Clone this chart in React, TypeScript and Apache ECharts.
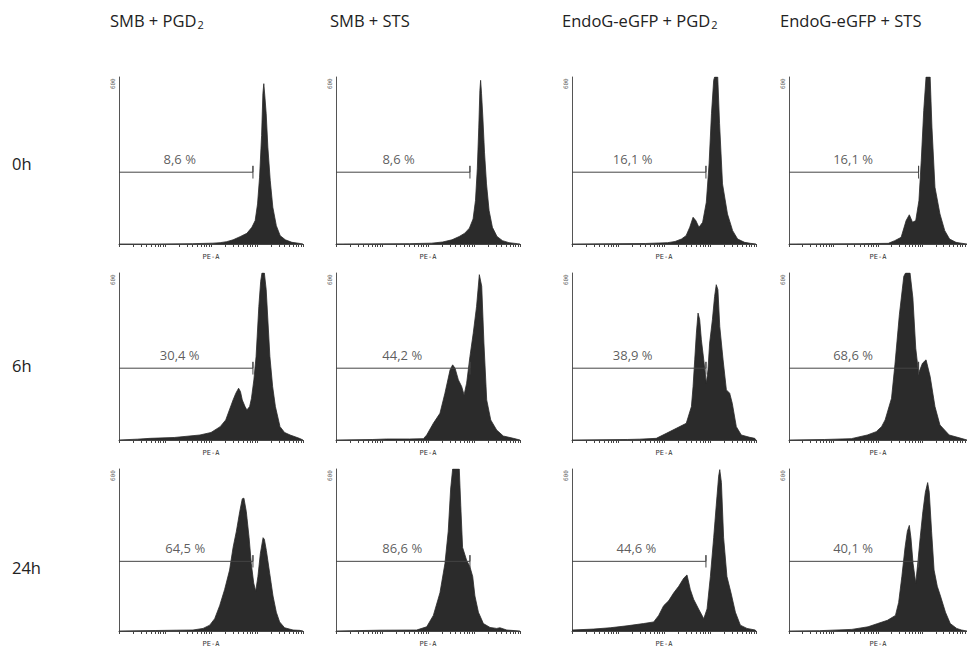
import React, { useEffect, useRef } from "react";
import * as echarts from "echarts";

// ---------- DATA ----------
const HEADER_MAIN = ["SMB + PGD", "SMB + STS", "EndoG-eGFP + PGD", "EndoG-eGFP + STS"];
const HEADER_SUB = ["2", "", "2", ""];
const ROW_LABELS = ["0h", "6h", "24h"];

const GATE_TEXT = [
  ["8,6 %", "8,6 %", "16,1 %", "16,1 %"],
  ["30,4 %", "44,2 %", "38,9 %", "68,6 %"],
  ["64,5 %", "86,6 %", "44,6 %", "40,1 %"],
];
// gate label centre x (% of axis)
const GATE_LABEL_X = [
  [33, 34, 33, 36],
  [33, 36, 33, 36],
  [36, 36, 35, 36],
];
const GATE_END = 72.8; // % of PE-A axis
const GATE_LEVEL = 43; // % of count axis

// [PE-A position (% of axis), count (% of axis)]
const H_0H_SMB_PGD2 = [[0,0],[20,0],[40,0.2],[51,0.5],[55,0.8],[58.5,1.4],[62,2.5],[65.8,4.4],[69.5,6.4],[72.2,10],[74,14],[75.3,24],[76.4,40],[77.5,65],[78.2,90],[78.7,96],[79.3,88],[80,78],[80.9,58],[82.2,38],[83.6,22],[85.5,11],[87.6,5],[90.4,2.5],[94,1],[98.5,0.3],[100,0]];
const H_0H_SMB_STS = [[0,0],[40,0.2],[52,0.5],[58,1.2],[63,2.5],[67,4.5],[70,6.5],[72.5,9.5],[74.5,15],[75.8,26],[76.8,45],[77.6,70],[78.2,92],[78.6,98],[79.1,90],[79.8,76],[80.7,55],[81.8,36],[83.2,20],[85,10],[87.5,4.5],[90.5,2],[94,0.8],[98.5,0.2],[100,0]];
const H_0H_ENDOG_PGD2 = [[0,0],[40,0.3],[52,0.8],[56,1.5],[59.5,3],[62,5],[64,10],[65.8,16],[67.3,14],[69,10],[71,13],[73,25],[74.5,48],[75.8,78],[77,98],[77.5,100],[79.2,100],[80.2,72],[81.8,36],[84.5,18],[87.3,8],[90,3],[93.8,1],[97,0.4],[100,0]];
const H_0H_ENDOG_STS = [[0,0],[40,0.2],[55.8,0.4],[59.4,2],[63,4],[65.8,14],[67.6,17.5],[69.4,13],[71.2,14],[73,26],[74.3,50],[75.7,80],[77,100],[79.3,100],[80.3,70],[82,34],[84.8,18],[87.5,8],[90.2,3],[93.8,1],[96.6,0.5],[100,0]];

const H_6H_SMB_PGD2 = [[0,0],[10,0.5],[17,1],[30,1.5],[44,3],[50,4.5],[55,8],[58,12],[60,18],[62,24],[63.5,28],[65,31],[66,29],[67,24],[68.5,20],[69.5,18],[71,20],[72,25],[73.3,36],[74.5,50],[76,80],[77,95],[77.7,100],[79,100],[80,90],[81,70],[82,50],[83.5,32],[85,20],[87.5,8],[90,4.5],[93,3],[98,1],[100,0]];
const H_6H_SMB_STS = [[0,0],[20,0.3],[27.5,0.6],[40,0.6],[47.5,0.8],[49.3,3],[52.9,10],[56.5,16],[59.2,28],[62,42],[63.4,45],[64.7,43],[66.5,36],[68.3,32],[69.6,27],[71,34],[72.8,50],[74.6,64],[76.4,80],[77.9,99],[79.2,92],[80.4,58],[81.9,24],[84.1,12],[87.3,6],[90.9,2.4],[96.4,1],[100,0]];
const H_6H_ENDOG_PGD2 = [[0,0],[30,0.3],[36.8,0.5],[45.8,1],[51.3,4],[56.7,7],[62.1,10],[64.9,20],[65.8,32],[66.7,48],[67.6,64],[68.5,76],[69.4,72],[70.3,60],[71.6,48],[73,34],[73.9,42],[74.8,58],[76.3,72],[77.5,86],[78.4,93],[79.3,90],[80.3,68],[82.1,48],[83.9,30],[85.7,28],[87.1,22],[89.3,8],[92,3],[96.6,1.6],[99.3,1],[100,0]];
const H_6H_ENDOG_STS = [[0,0],[20,0.3],[35,0.8],[44,3],[49,5],[52,8],[54,12],[57.6,25],[59.5,45],[62,75],[64.5,98],[65.5,100],[68,100],[69.6,85],[71.2,55],[72.8,40],[75,46],[77,48],[79.3,38],[82,20],[84.8,9],[90,3],[96.7,1],[100,0]];

const H_24H_SMB_PGD2 = [[0,0],[20,0.3],[31.2,0.5],[40.2,0.6],[45.7,1.6],[49.3,3.6],[52,7.6],[54.7,15.6],[57.4,25.6],[60.1,37.6],[62,51.6],[63.8,61.6],[65.6,73.6],[67,81.6],[67.9,82],[69.2,73.6],[70.7,57.6],[71.9,41.6],[73.2,29.6],[74.3,24.6],[75.5,33.6],[76.8,47.6],[78.3,57.6],[79,56.6],[80.1,49.6],[81.9,35.6],[83.7,21.6],[85.5,11.6],[87.3,5.6],[90,2],[94.6,0.6],[98.2,0.4],[100,0]];
const H_24H_SMB_STS = [[0,0],[23.9,0.5],[43.8,0.6],[49.3,2.6],[52.9,9.6],[56.5,23.6],[59.2,41.6],[61,61.6],[62.3,87.6],[63.4,100],[67,100],[67.8,77.6],[68.8,51.6],[71,43.6],[72.8,39.6],[74.3,33.6],[75.5,21.6],[77.4,11.6],[80.1,4.6],[83.7,2.2],[87.3,1.6],[89.1,2],[92.8,0.6],[100,0]];
const H_24H_ENDOG_PGD2 = [[0,0.6],[11.8,1.2],[20.8,2],[29.9,3.2],[38.9,4.6],[44.4,5.6],[47.1,9.6],[49.8,15.6],[52.5,18.6],[55.3,23.6],[58,27.6],[60.7,32.6],[62.5,34.6],[64.3,25.6],[66.1,19.6],[68.8,13.6],[71.6,7.6],[73.4,13.6],[75.2,33.6],[77,57.6],[78.4,77.6],[79.7,95.6],[80.3,99.6],[81.2,91.6],[82.4,57.6],[84.2,33.6],[86.4,23.6],[88.8,11.6],[91.5,3.6],[95.1,1.6],[99.6,0.6],[100,0]];
const H_24H_ENDOG_STS = [[0,0],[17.2,0.2],[35.3,1],[44.4,2.6],[49.8,4.6],[55.3,6.6],[59.8,9.6],[61.6,17.6],[63.4,33.6],[65.2,51.6],[66.5,61.6],[67.6,65.2],[68.5,57.6],[69.7,41.6],[71.2,29.6],[72.5,43.6],[73.7,57.6],[75.2,73.6],[76.6,85.6],[77.9,91.6],[78.8,85.6],[80.1,61.6],[81.5,37.6],[83.3,27.6],[85.1,21.6],[87.9,11.6],[90.6,4.6],[94.2,1.6],[96.9,0.6],[100,0]];

const HISTOGRAMS = [
  [H_0H_SMB_PGD2, H_0H_SMB_STS, H_0H_ENDOG_PGD2, H_0H_ENDOG_STS],
  [H_6H_SMB_PGD2, H_6H_SMB_STS, H_6H_ENDOG_PGD2, H_6H_ENDOG_STS],
  [H_24H_SMB_PGD2, H_24H_SMB_STS, H_24H_ENDOG_PGD2, H_24H_ENDOG_STS],
];

const X_AXIS_NAME = "PE-A";
const Y_AXIS_TOP_LABEL = "600";

// log-decade tick positions on PE-A axis (4 decades over the axis)
const DECADES = [0, 1, 2, 3];
const TICK_MULT = [1, 2, 3, 4, 5, 6, 7, 8, 9];

// ---------- LAYOUT ----------
const COL_LEFT = [119, 336, 572, 789];
const ROW_TOP = [77, 273, 469];
const PANEL_W = 184;
const PANEL_H = 167;
const HEADER_LEFT = [110, 330, 562, 780];
const ROW_LABEL_Y = [166, 368, 570];

const FG = "#2b2b2b";
const FONT = "'Open Sans', Lato, sans-serif";

export default function App() {
  const ref = useRef<HTMLDivElement>(null);

  useEffect(() => {
    if (!ref.current) return;
    const chart = echarts.init(ref.current, null, { renderer: "svg" });

    const ticks: number[] = [];
    DECADES.forEach((d) => TICK_MULT.forEach((k) => ticks.push(25 * (d + Math.log10(k)))));
    ticks.push(100);

    const grid: any[] = [];
    const xAxis: any[] = [];
    const yAxis: any[] = [];
    const series: any[] = [];

    let idx = 0;
    for (let r = 0; r < 3; r++) {
      for (let c = 0; c < 4; c++) {
        grid.push({ left: COL_LEFT[c], top: ROW_TOP[r], width: PANEL_W, height: PANEL_H });
        xAxis.push({
          gridIndex: idx,
          type: "value",
          min: 0,
          max: 100,
          splitLine: { show: false },
          axisLine: { show: true, lineStyle: { color: "#444", width: 1 } },
          axisTick: { show: true, customValues: ticks, length: 3, lineStyle: { color: "#444", width: 1 } },
          axisLabel: { show: false },
          name: X_AXIS_NAME,
          nameLocation: "middle",
          nameGap: 9,
          nameTextStyle: { fontSize: 7, color: "#333", fontFamily: "'DejaVu Sans Mono', monospace" },
        });
        yAxis.push({
          gridIndex: idx,
          type: "value",
          min: 0,
          max: 100,
          splitLine: { show: false },
          axisLine: { show: true, lineStyle: { color: "#555", width: 1 } },
          axisTick: { show: false },
          axisLabel: {
            show: true,
            customValues: [96],
            formatter: () => Y_AXIS_TOP_LABEL,
            rotate: 90,
            fontSize: 6,
            margin: 4,
            color: "#555",
            fontFamily: "'DejaVu Sans Mono', monospace",
          },
        });
        series.push({
          type: "line",
          xAxisIndex: idx,
          yAxisIndex: idx,
          data: HISTOGRAMS[r][c],
          showSymbol: false,
          symbol: "none",
          lineStyle: { color: FG, width: 0.8 },
          areaStyle: { color: FG, opacity: 1 },
          clip: true,
          z: 2,
        });
        series.push({
          type: "line",
          xAxisIndex: idx,
          yAxisIndex: idx,
          data: [
            [0, GATE_LEVEL],
            [GATE_END, GATE_LEVEL],
            [GATE_END, GATE_LEVEL + 3.8],
            [GATE_END, GATE_LEVEL - 3.8],
          ],
          showSymbol: false,
          symbol: "none",
          lineStyle: { color: "#444", width: 1 },
          z: 3,
        });
        series.push({
          type: "scatter",
          xAxisIndex: idx,
          yAxisIndex: idx,
          data: [[GATE_LABEL_X[r][c], GATE_LEVEL + 8]],
          symbolSize: 0,
          label: {
            show: true,
            position: "inside",
            formatter: GATE_TEXT[r][c],
            fontSize: 13,
            color: "#333",
            fontFamily: FONT,
          },
          z: 4,
        });
        idx++;
      }
    }

    const graphic: any[] = [];
    HEADER_MAIN.forEach((h, i) => {
      graphic.push({
        type: "text",
        left: HEADER_LEFT[i],
        top: 10,
        style: {
          text: `{m|${h}}{s|${HEADER_SUB[i]}}`,
          rich: {
            m: { fontSize: 16.5, fontFamily: FONT, fill: "#222", lineHeight: 22 },
            s: { fontSize: 11, fontFamily: FONT, fill: "#222", lineHeight: 22, padding: [9, 0, 0, 1] },
          },
        },
      });
    });
    ROW_LABELS.forEach((t, i) => {
      graphic.push({
        type: "text",
        left: 12,
        top: ROW_LABEL_Y[i] - 11,
        style: { text: t, fontSize: 16.5, fontFamily: FONT, fill: "#222" },
      });
    });

    chart.setOption({
      animation: false,
      backgroundColor: "#ffffff",
      grid,
      xAxis,
      yAxis,
      series,
      graphic,
    });

    return () => chart.dispose();
  }, []);

  return (
    <div
      ref={ref}
      style={{ position: "fixed", left: 0, top: 0, width: 967, height: 648, background: "#fff" }}
    />
  );
}
